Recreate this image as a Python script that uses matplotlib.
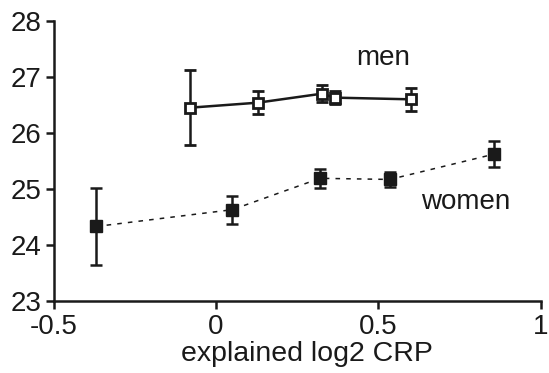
import matplotlib.pyplot as plt

plt.rcParams['font.family'] = ['Liberation Sans', 'DejaVu Sans']

# men (open squares, solid line)
men_x = [-0.082, 0.128, 0.325, 0.366, 0.60]
men_y = [26.45, 26.54, 26.70, 26.63, 26.60]
men_err = [0.665, 0.20, 0.15, 0.12, 0.20]

# women (filled squares, dashed line)
women_x = [-0.37, 0.05, 0.32, 0.535, 0.855]
women_y = [24.33, 24.63, 25.19, 25.17, 25.62]
women_err = [0.69, 0.25, 0.17, 0.13, 0.23]

xticks = [-0.5, 0, 0.5, 1]
xtick_labels = ['-0.5', '0', '0.5', '1']
yticks = [23, 24, 25, 26, 27, 28]

fig = plt.figure(figsize=(5.49, 3.73), dpi=100)
ax = fig.add_axes([0.098, 0.193, 0.887, 0.751])

ax.errorbar(men_x, men_y, yerr=men_err, color='#1a1a1a', lw=1.8,
            marker='s', ms=7, mfc='white', mec='#1a1a1a', mew=2,
            elinewidth=1.8, capsize=4, capthick=1.8)
ax.errorbar(women_x, women_y, yerr=women_err, color='#1a1a1a', lw=1.1,
            ls=(0, (3, 4)), marker='s', ms=8, mfc='#1a1a1a', mec='#1a1a1a',
            elinewidth=1.8, capsize=4, capthick=1.8)

ax.text(0.514, 27.33, 'men', fontsize=20, ha='center', va='center', color='#1a1a1a')
ax.text(0.768, 24.77, 'women', fontsize=20, ha='center', va='center', color='#1a1a1a')

ax.set_xlim(-0.5, 1)
ax.set_ylim(23, 28)
ax.set_xticks(xticks)
ax.set_xticklabels(xtick_labels)
ax.set_yticks(yticks)
ax.set_xlabel('explained log2 CRP', fontsize=20.5, color='#1a1a1a', labelpad=1)
ax.xaxis.label.set_x(0.52)

for side in ['top', 'right']:
    ax.spines[side].set_visible(False)
for side in ['left', 'bottom']:
    ax.spines[side].set_linewidth(1.8)
    ax.spines[side].set_color('#1a1a1a')
ax.tick_params(axis='both', labelsize=20, width=1.8, length=6,
               colors='#1a1a1a', pad=3)

fig.savefig('out.png', dpi=100)
